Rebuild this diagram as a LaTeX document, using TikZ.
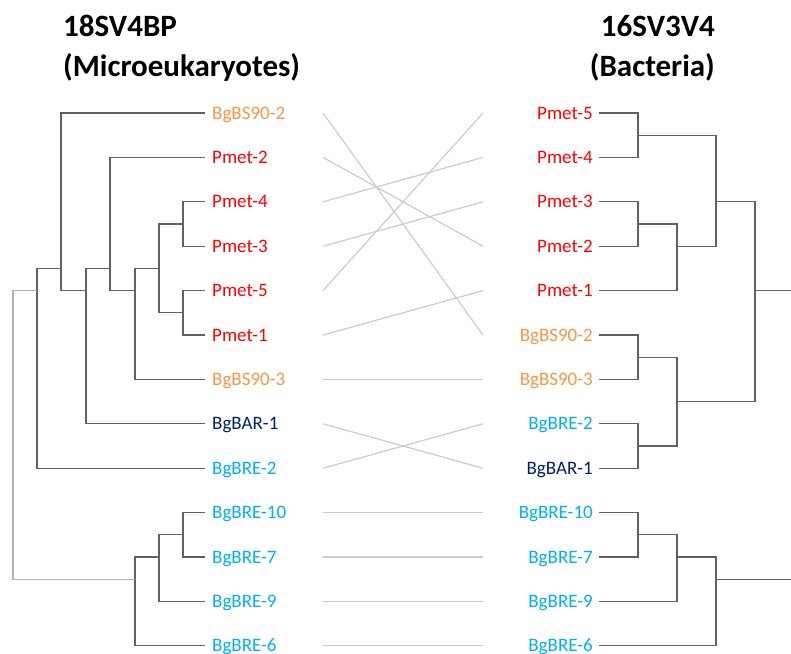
\documentclass[tikz,border=0pt]{standalone}
\usepackage{fontspec}
\setmainfont{Carlito}
\usepackage{tikz}
\usepackage{xcolor}
\definecolor{bsorange}{HTML}{F79646}
\definecolor{pmred}{HTML}{FF0000}
\definecolor{barnavy}{HTML}{002060}
\definecolor{breblue}{HTML}{00B0F0}

\tikzset{
	branch/.style={line width=1.2pt, black!62},
	rootbranch/.style={line width=1.2pt, black!30},
	tangle/.style={line width=1.2pt, black!20},
	leaf/.style={font=\fontsize{19}{22}\selectfont, text height=12.2pt, text depth=0pt, inner ysep=0pt},
	title/.style={font=\fontsize{31}{40}\selectfont\bfseries, inner sep=0pt}
}

\begin{document}
\begin{tikzpicture}[x=1pt, y=-1pt]
			\useasboundingbox (0,0) rectangle (791,653);
			% titles (base = last line)
			\node[title, anchor=base west, align=left] (ttlL) at (63,76) {18SV4BP\\(Microeukaryotes)};
			\node[title, anchor=base east, align=right] (ttlR) at (715,76) {16SV3V4\\(Bacteria)};
			
			% leaves, left tree
			\foreach \n/\y/\lab/\col in {lBS2/113/BgBS90-2/bsorange, lP2/157.4/Pmet-2/pmred, lP4/201.8/Pmet-4/pmred,
				lP3/246.2/Pmet-3/pmred, lP5/290.6/Pmet-5/pmred, lP1/335/Pmet-1/pmred, lBS3/379.4/BgBS90-3/bsorange,
				lBAR1/423.8/BgBAR-1/barnavy, lBRE2/468.2/BgBRE-2/breblue, lBRE10/512.6/BgBRE-10/breblue,
				lBRE7/557/BgBRE-7/breblue, lBRE9/601.4/BgBRE-9/breblue, lBRE6/645.8/BgBRE-6/breblue}
			{
				\node[leaf, text=\col, anchor=west, inner xsep=7pt] (\n) at (205,\y) {\lab};
				\coordinate (\n-t) at (323,\y);
			}
			
			% leaves, right tree
			\foreach \n/\y/\lab/\col in {rP5/113/Pmet-5/pmred, rP4/157.4/Pmet-4/pmred, rP3/201.8/Pmet-3/pmred,
				rP2/246.2/Pmet-2/pmred, rP1/290.6/Pmet-1/pmred, rBS2/335/BgBS90-2/bsorange, rBS3/379.4/BgBS90-3/bsorange,
				rBRE2/423.8/BgBRE-2/breblue, rBAR1/468.2/BgBAR-1/barnavy, rBRE10/512.6/BgBRE-10/breblue,
				rBRE7/557/BgBRE-7/breblue, rBRE9/601.4/BgBRE-9/breblue, rBRE6/645.8/BgBRE-6/breblue}
			{
				\node[leaf, text=\col, anchor=east, inner xsep=6pt] (\n) at (599,\y) {\lab};
				\coordinate (\n-t) at (483,\y);
			}
			
			% inner nodes, left
			\coordinate (lroot) at (13,435);
			\coordinate (lnA) at (37,290.6);
			\coordinate (lnB) at (61,268.4);
			\coordinate (lnC) at (86,290.6);
			\coordinate (lnD) at (110,268.4);
			\coordinate (lnE) at (135,290.6);
			\coordinate (lnF) at (159,268.4);
			\coordinate (lnG) at (183,224);
			\coordinate (lnH) at (183,312.8);
			\coordinate (lnI) at (135,579.2);
			\coordinate (lnJ) at (159,557);
			\coordinate (lnK) at (183,534.8);
			
			% inner nodes, right
			\coordinate (rnA) at (638,135.2);
			\coordinate (rnB) at (638,224);
			\coordinate (rnC) at (677,246.2);
			\coordinate (rnD) at (716,201.8);
			\coordinate (rnE) at (755,290.6);
			\coordinate (rnF) at (638,357.2);
			\coordinate (rnG) at (677,401.6);
			\coordinate (rnH) at (638,446);
			\coordinate (rnI) at (638,534.8);
			\coordinate (rnJ) at (677,557);
			\coordinate (rnK) at (716,579.2);
			\coordinate (rEndE) at (791,290.6);
			\coordinate (rEndK) at (791,579.2);
			
			% branches
			\foreach \c/\p in {lBS2/lnB, lP2/lnD, lP4/lnG, lP3/lnG, lP5/lnH, lP1/lnH, lBS3/lnE, lBAR1/lnC,
				lBRE2/lnA, lBRE10/lnK, lBRE7/lnK, lBRE9/lnJ, lBRE6/lnI}
			\draw[branch] (\c.west) -| (\p);
			\foreach \c/\p in {rP5/rnA, rP4/rnA, rP3/rnB, rP2/rnB, rP1/rnC, rBS2/rnF, rBS3/rnF, rBRE2/rnH,
				rBAR1/rnH, rBRE10/rnI, rBRE7/rnI, rBRE9/rnJ, rBRE6/rnK}
			\draw[branch] (\c.east) -| (\p);
			\foreach \c/\p in {lnG/lnF, lnH/lnF, lnF/lnE, lnE/lnD, lnD/lnC, lnC/lnB, lnB/lnA, lnK/lnJ, lnJ/lnI,
				rnB/rnC, rnA/rnD, rnC/rnD, rnD/rnE, rnF/rnG, rnH/rnG, rnG/rnE, rnI/rnJ, rnJ/rnK}
			\draw[branch] (\c) -| (\p);
			\draw[rootbranch] (lnA) -| (lroot) |- (lnI);
			\draw[branch] (rnE) -- (rEndE);
			\draw[branch] (rnK) -- (rEndK);
			
			% tanglegram lines
			\foreach \s in {BS2, P2, P4, P3, P5, P1, BS3, BAR1, BRE2, BRE10, BRE7, BRE9, BRE6}
			\draw[tangle] (l\s-t) -- (r\s-t);
		\end{tikzpicture}
\end{document}
